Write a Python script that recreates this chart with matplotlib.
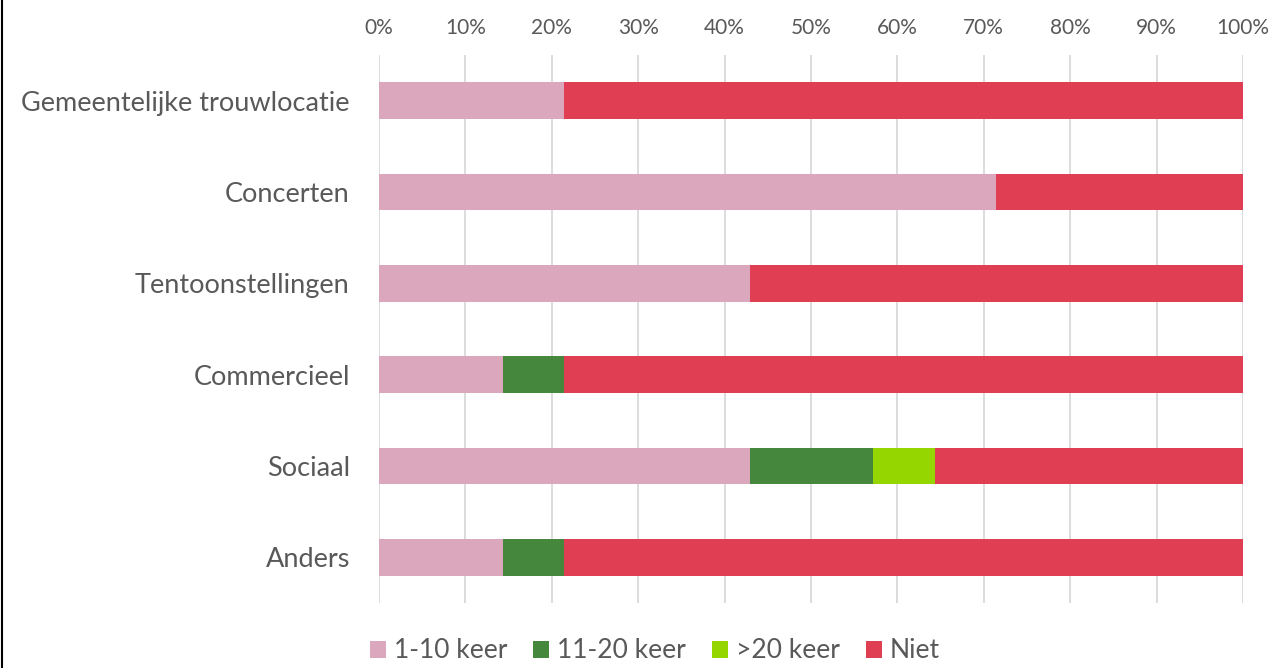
import matplotlib.pyplot as plt
from matplotlib.lines import Line2D
from matplotlib.ticker import PercentFormatter

plt.rcParams['font.family'] = ['Lato', 'DejaVu Sans']

# Data (share of respondents, %)
categories = ["Gemeentelijke trouwlocatie", "Concerten", "Tentoonstellingen",
              "Commercieel", "Sociaal", "Anders"]
series_names = ["1-10 keer", "11-20 keer", ">20 keer", "Niet"]
keer_1_10 = [21.4, 71.4, 42.9, 14.3, 42.9, 14.3]
keer_11_20 = [0.0, 0.0, 0.0, 7.1, 14.3, 7.1]
keer_20plus = [0.0, 0.0, 0.0, 0.0, 7.1, 0.0]
niet = [78.6, 28.6, 57.1, 78.6, 35.7, 78.6]
colors = ['#DBA7BD', '#44873D', '#96D600', '#E03E52']

fig = plt.figure(figsize=(12.74, 6.68), dpi=100)
ax = fig.add_axes([379 / 1274, 1 - 603 / 668, 864 / 1274, 548 / 668])

y = list(range(len(categories)))
left = [0.0] * len(categories)
for name, vals, col in zip(series_names, [keer_1_10, keer_11_20, keer_20plus, niet], colors):
    ax.barh(y, vals, left=left, height=0.4, color=col, label=name, zorder=3)
    left = [l + v for l, v in zip(left, vals)]

ax.set_xlim(0, 100)
ax.set_ylim(len(categories) - 0.5, -0.5)
ax.set_xticks(range(0, 101, 10))
ax.xaxis.set_major_formatter(PercentFormatter(decimals=0))
ax.xaxis.tick_top()
ax.set_yticks(y)
ax.set_yticklabels(categories)
ax.tick_params(axis='x', length=0, pad=12, labelsize=15, labelcolor='#595959')
ax.tick_params(axis='y', length=0, pad=21, labelsize=19.5, labelcolor='#595959')
ax.grid(axis='x', color='#D9D9D9', linewidth=1.3, zorder=0)
for s in ax.spines.values():
    s.set_visible(False)

leg = fig.legend(loc='center', bbox_to_anchor=(655 / 1274, 1 - 651 / 668), ncol=4,
                 frameon=False, fontsize=19, handlelength=0.6, handleheight=0.6,
                 handletextpad=0.3, columnspacing=1.0, borderpad=0.0)
for t in leg.get_texts():
    t.set_color('#595959')

fig.add_artist(Line2D([2 / 1274, 2 / 1274], [0, 1], color='black', linewidth=1.5,
                      transform=fig.transFigure))

fig.savefig('out.png', dpi=100)
